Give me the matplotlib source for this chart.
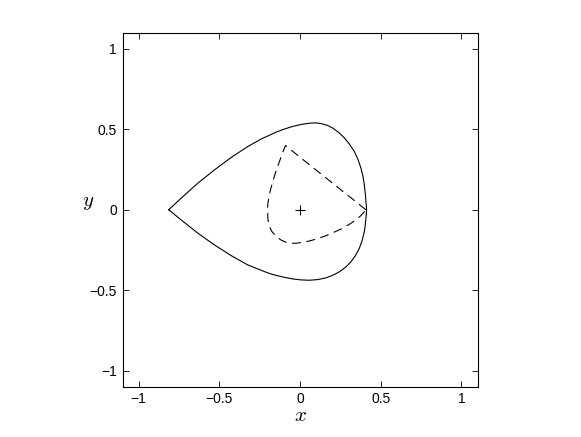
import matplotlib
matplotlib.use('Agg')
import matplotlib.pyplot as plt

# outer curve (solid), going counter-clockwise from the cusp
outer_x = [-0.814, -0.736, -0.633, -0.530, -0.427, -0.324, -0.241, -0.190, -0.148, -0.096,
           -0.046, 0.006, 0.058, 0.095, 0.130, 0.168, 0.202, 0.240, 0.274, 0.306,
           0.336, 0.358, 0.377, 0.390, 0.398, 0.404, 0.408, 0.411,
           0.412,
           0.411, 0.408, 0.404, 0.398, 0.385, 0.367, 0.343, 0.315, 0.281, 0.243,
           0.203, 0.161, 0.110, 0.058, 0.006, -0.046, -0.096, -0.148, -0.190,
           -0.221, -0.324, -0.427, -0.530, -0.633, -0.736, -0.814]
outer_y = [0.0, 0.073, 0.166, 0.248, 0.325, 0.393, 0.440, 0.463, 0.483, 0.502,
           0.518, 0.530, 0.538, 0.540, 0.536, 0.525, 0.508, 0.480, 0.447, 0.408,
           0.362, 0.315, 0.259, 0.206, 0.155, 0.103, 0.052, 0.020,
           0.0,
           -0.020, -0.053, -0.095, -0.136, -0.190, -0.240, -0.285, -0.324, -0.358, -0.386,
           -0.407, -0.423, -0.434, -0.438, -0.436, -0.430, -0.420, -0.408, -0.396,
           -0.384, -0.343, -0.285, -0.219, -0.146, -0.064, 0.0]

# inner curve (dashed)
inner_x = [0.408, -0.091, -0.110, -0.128, -0.150, -0.169, -0.184, -0.194, -0.200, -0.202,
           -0.200, -0.194, -0.175, -0.148, -0.118, -0.087, -0.055, -0.025, 0.015,
           0.058, 0.110, 0.161, 0.212, 0.264, 0.306, 0.346, 0.378, 0.408]
inner_y = [0.0, 0.399, 0.350, 0.300, 0.238, 0.176, 0.122, 0.073, 0.035, 0.0,
           -0.048, -0.095, -0.135, -0.167, -0.188, -0.202, -0.208, -0.208, -0.203,
           -0.194, -0.179, -0.161, -0.139, -0.115, -0.090, -0.064, -0.035, 0.0]

centre = (0.0, 0.0)
ticks = [-1, -0.5, 0, 0.5, 1]
tick_labels = ['\u22121', '\u22120.5', '0', '0.5', '1']

plt.rcParams['font.family'] = ['Liberation Sans', 'DejaVu Sans']
plt.rcParams['mathtext.fontset'] = 'cm'

fig = plt.figure(figsize=(5.81, 4.37), dpi=100)
ax = fig.add_axes([0.211, 0.115, 0.611, 0.810])

ax.plot(outer_x, outer_y, color='black', lw=0.8)
ax.plot(inner_x, inner_y, color='black', lw=0.8, linestyle=(0, (8, 5)))
ax.plot(centre[0], centre[1], marker='+', color='black', markersize=7, mew=0.8)

ax.set_xlim(-1.1, 1.1)
ax.set_ylim(-1.1, 1.1)
ax.set_xticks(ticks)
ax.set_xticklabels(tick_labels)
ax.set_yticks(ticks)
ax.set_yticklabels(tick_labels)
ax.tick_params(direction='in', top=True, right=True, length=4, width=0.6, labelsize=10, pad=4)
for s in ax.spines.values():
    s.set_linewidth(0.8)

ax.set_xlabel('$x$', fontsize=15, ha='center', va='center')
ax.xaxis.set_label_coords(0.5, -0.082)
ax.set_ylabel('$y$', fontsize=15, rotation=0, ha='center', va='center')
ax.yaxis.set_label_coords(-0.098, 0.52)

plt.savefig('out.png', dpi=100)
